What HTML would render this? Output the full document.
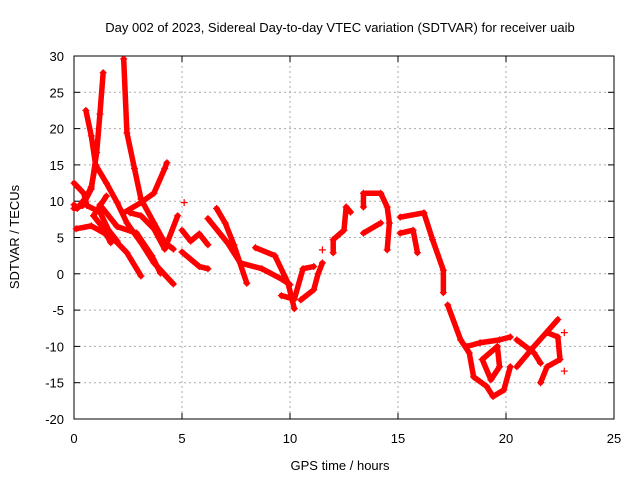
<!DOCTYPE html>
<html><head><meta charset="utf-8"><style>
body{margin:0;background:#fff}
svg{display:block;font-family:"Liberation Sans",sans-serif}
</style></head><body>
<svg id="c" width="640" height="480"></svg>
<script>
const xTicks=[0,5,10,15,20,25];
const yTicks=[-20,-15,-10,-5,0,5,10,15,20,25,30];
const track1=[[0.55,22.5],[0.8,19],[1.0,15],[1.5,12.5],[2.0,9.8],[2.45,7],[3.1,4.3],[3.7,1.5],[4.6,-1.4]];
const track2=[[1.0,15],[0.8,12],[0.6,10.7],[0.15,9],[0,9.5]];
const track3=[[1.35,27.7],[1.2,22],[1.05,16.7],[0.8,11.7],[0.4,9.4],[0,9]];
const track4=[[2.3,29.6],[2.45,19.4],[2.8,14.5],[3.1,10.3],[3.7,7],[4.2,4.3],[4.6,3.4]];
const track5=[[2.3,8.4],[3.1,9.8],[3.7,11.1],[4.2,14.5],[4.3,15.3]];
const track6=[[0,12.5],[0.45,11.1],[0.6,9.4],[1.2,8.5],[1.6,6],[2.0,4.5]];
const track7=[[0.1,6.2],[0.8,6.6],[1.4,5.6],[2.0,4.3],[2.45,2.9],[3.1,-0.3]];
const track8=[[1.5,10.7],[0.9,8],[1.3,6.5],[1.7,4.3]];
const track9=[[1.2,9.5],[2.0,6.5],[2.9,5.6],[3.6,2.5],[4.0,0.1]];
const track10=[[2.6,8.4],[3.1,8],[3.7,6.2],[4.2,3.4],[4.8,8]];
const track11=[[5.0,6],[5.4,4.5],[5.8,5.5],[6.2,4]];
const track12=[[5.0,3],[5.4,2],[5.8,1],[6.2,0.7]];
const track13=[[6.6,9],[7.0,7],[7.4,4],[8.0,-1.3]];
const track14=[[6.2,7.6],[7.1,4.3],[7.7,1.5],[8.7,0.7],[9.6,-0.7],[10.0,-1.5]];
const track15=[[8.4,3.6],[9.3,2.5],[9.9,-1.2],[10.2,-4.8]];
const track16=[[9.6,-3],[10.2,-3.5],[10.6,0.7],[11.1,1]];
const track17=[[10.5,-3.6],[11.1,-2.2],[11.3,0],[11.5,1.5]];
const track18=[[12.0,2.9],[12.0,4.7],[12.5,6],[12.6,9.2],[12.8,8.5]];
const track19=[[13.4,9.2],[13.4,11.1],[14.2,11.1],[14.5,9.2],[14.6,7],[14.5,3.3]];
const track20=[[13.4,5.6],[14.2,7]];
const track21=[[15.1,7.8],[16.2,8.4],[16.6,4.7],[17.1,0.5],[17.1,-2.6]];
const track22=[[15.1,5.6],[15.7,6],[15.9,2.9]];
const track23=[[17.3,-4.3],[17.9,-9.1],[18.3,-10.9],[18.5,-14.2],[19.1,-15.5],[19.4,-16.9],[19.9,-16],[20.2,-12.8]];
const track24=[[18.2,-10],[18.8,-9.5],[19.7,-9.1],[20.2,-8.7]];
const track25=[[18.9,-11.8],[19.6,-10],[19.7,-12.8],[19.3,-14.6],[18.9,-11.8]];
const track26=[[20.5,-9.1],[21.3,-10.9],[21.6,-12.3]];
const track27=[[20.5,-12.8],[21.3,-10],[22.4,-6.3]];
const track28=[[21.6,-15],[21.9,-12.8],[22.5,-11.8],[22.4,-8.7],[21.9,-8.1]];
const singles=[[22.7,-8.1],[22.7,-13.4],[11.5,3.3],[5.1,9.8]];
const tracks=[track1,track2,track3,track4,track5,track6,track7,track8,track9,track10,track11,track12,track13,track14,track15,track16,track17,track18,track19,track20,track21,track22,track23,track24,track25,track26,track27,track28];

const L=74,R=614,T=56,B=419;
const sx=v=>L+(v-0)/25*(R-L);
const sy=v=>B-(v+20)/50*(B-T);
const svg=document.getElementById('c');
const NS='http://www.w3.org/2000/svg';
function mk(t,a,p){const e=document.createElementNS(NS,t);for(const k in a)e.setAttribute(k,a[k]);(p||svg).appendChild(e);return e;}

const title=mk('text',{x:340,y:32,'text-anchor':'middle','font-size':13,fill:'#000'});
title.textContent='Day 002 of 2023, Sidereal Day-to-day VTEC variation (SDTVAR) for receiver uaib';



xTicks.forEach(v=>{
  const x=sx(v);
  if(v>0&&v<25){const g=mk('line',{x1:x,y1:T,x2:x,y2:B,stroke:'#aaa','stroke-dasharray':'2,3','stroke-width':1});
  
  }
  mk('line',{x1:x,y1:B,x2:x,y2:B-6,stroke:'#000'});
  mk('line',{x1:x,y1:T,x2:x,y2:T+6,stroke:'#000'});
  const t=mk('text',{x:x,y:B+24,'text-anchor':'middle','font-size':13});
  t.textContent=v;
  
  
});
yTicks.forEach(v=>{
  const y=sy(v);
  if(v>-20&&v<30){const g=mk('line',{x1:L,y1:y,x2:R,y2:y,stroke:'#aaa','stroke-dasharray':'2,3','stroke-width':1});
  
  }
  mk('line',{x1:L,y1:y,x2:L+6,y2:y,stroke:'#000'});
  mk('line',{x1:R,y1:y,x2:R-6,y2:y,stroke:'#000'});
  const t=mk('text',{x:L-10,y:y+5,'text-anchor':'end','font-size':13});
  t.textContent=v;
  
  
});
const frame=mk('rect',{x:L,y:T,width:R-L,height:B-T,fill:'none',stroke:'#000'});



const xl=mk('text',{x:340,y:470,'text-anchor':'middle','font-size':13});
xl.textContent='GPS time / hours';


const yl=mk('text',{x:0,y:0,'text-anchor':'middle','font-size':13,transform:'translate(19,237) rotate(-90)'});
yl.textContent='SDTVAR / TECUs';



const g=mk('g',{});


function plus(x,y){
  const p=mk('path',{d:`M${x-3.5},${y}h7M${x},${y-3.5}v7`,stroke:'#f00','stroke-width':1.2},g);
  
  
}
tracks.forEach(tr=>{
  const pl=mk('polyline',{points:tr.map(p=>sx(p[0])+','+sy(p[1])).join(' '),fill:'none',stroke:'#f00','stroke-width':5.5,'stroke-linejoin':'round','stroke-linecap':'round'},g);
  
  
  tr.forEach(p=>plus(sx(p[0]),sy(p[1])));
});
singles.forEach(p=>plus(sx(p[0]),sy(p[1])));
</script>
</body></html>
